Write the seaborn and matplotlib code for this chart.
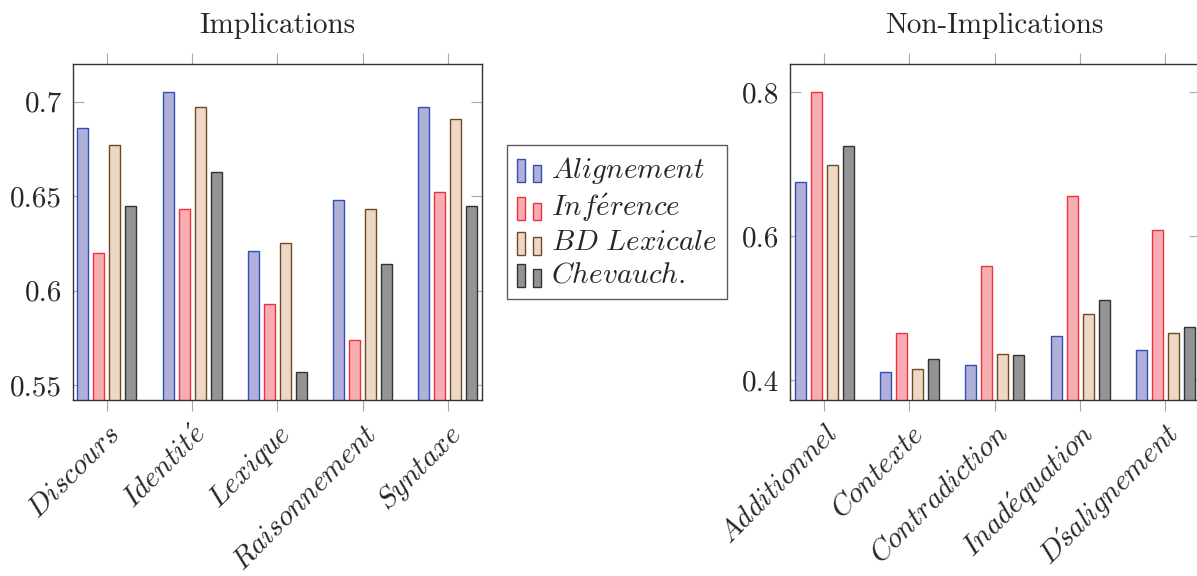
import matplotlib
matplotlib.use("Agg")
import matplotlib.pyplot as plt
from matplotlib.legend_handler import HandlerBase
from matplotlib.patches import Rectangle
from matplotlib.ticker import FuncFormatter
import matplotlib.transforms as mtransforms
import seaborn as sns
import pandas as pd

# --- données ---
series = [r"$\mathit{Alignement}$", r"$\mathit{Inf\acute{e}rence}$",
          r"$\mathit{BD\ Lexicale}$", r"$\mathit{Chevauch.}$"]

impl_cats = [r"$\mathit{Discours}$", r"$\mathit{Identit\acute{e}}$", r"$\mathit{Lexique}$",
             r"$\mathit{Raisonnement}$", r"$\mathit{Syntaxe}$"]
impl_alignement = [0.686, 0.705, 0.621, 0.648, 0.697]
impl_inference = [0.620, 0.643, 0.593, 0.574, 0.652]
impl_bdlex = [0.677, 0.697, 0.625, 0.643, 0.691]
impl_chevauch = [0.645, 0.663, 0.557, 0.614, 0.645]

nonimpl_cats = [r"$\mathit{Additionnel}$", r"$\mathit{Contexte}$", r"$\mathit{Contradiction}$",
                r"$\mathit{Inad\acute{e}quation}$", r"$\mathit{D\'salignement}$"]
nonimpl_alignement = [0.676, 0.411, 0.421, 0.462, 0.442]
nonimpl_inference = [0.800, 0.466, 0.559, 0.656, 0.609]
nonimpl_bdlex = [0.699, 0.416, 0.437, 0.492, 0.465]
nonimpl_chevauch = [0.726, 0.430, 0.435, 0.512, 0.474]

fills = ["#b0b0d8", "#f7aeb2", "#ecd8c4", "#949497"]
edges = ["#2f50b8", "#f0303c", "#6e4a22", "#333333"]


def to_df(cats, cols):
    rows = []
    for s, vals in zip(series, cols):
        for c, v in zip(cats, vals):
            rows.append({"cat": c, "serie": s, "val": v})
    return pd.DataFrame(rows)


df_impl = to_df(impl_cats, [impl_alignement, impl_inference, impl_bdlex, impl_chevauch])
df_non = to_df(nonimpl_cats, [nonimpl_alignement, nonimpl_inference, nonimpl_bdlex, nonimpl_chevauch])

sns.set_style("white")
plt.rcParams["font.family"] = "cmr10"
plt.rcParams["mathtext.fontset"] = "cm"
plt.rcParams["axes.formatter.use_mathtext"] = True

W, H = 1197, 576
fig = plt.figure(figsize=(W / 100, H / 100), dpi=100)
ax1 = fig.add_axes([72.7 / W, 1 - 400.3 / H, (482 - 72.7) / W, (400.3 - 64) / H])
ax2 = fig.add_axes([790 / W, 1 - 400.3 / H, (1199.5 - 790) / W, (400.3 - 64) / H])


class BarPair(HandlerBase):
    # pgfplots dessine deux petites barres dans la légende
    def create_artists(self, legend, orig, xd, yd, width, height, fontsize, trans):
        fc = orig.get_facecolor()
        ec = orig.get_edgecolor()
        bw = 5.5
        a = Rectangle((-xd, -yd - 3), bw, 16.5, facecolor=fc, edgecolor=ec, lw=1, transform=trans)
        b = Rectangle((-xd + 11.5, -yd - 3), bw, 12.5, facecolor=fc, edgecolor=ec, lw=1, transform=trans)
        return [a, b]


def draw(ax, df, cats, ylim, yticks, title):
    sns.barplot(data=df, x="cat", y="val", hue="serie", hue_order=series, order=cats,
                palette=fills, width=0.75, gap=0.31, errorbar=None, ax=ax, linewidth=1,
                saturation=1)
    for cont, ec in zip(ax.containers, edges):
        for bar in cont:
            bar.set_edgecolor(ec)
    ax.set_xlim(-0.4, len(cats) - 0.6)
    ax.set_ylim(*ylim)
    ax.set_yticks(yticks)
    ax.yaxis.set_major_formatter(FuncFormatter(lambda v, p: f"{v:g}"))
    ax.set_xlabel("")
    ax.set_ylabel("")
    ax.set_title(title, fontsize=21, pad=22)
    for sp in ax.spines.values():
        sp.set_color("#333333")
        sp.set_linewidth(1)
    ax.tick_params(axis="y", direction="in", left=True, right=True, length=7.7,
                   width=0.8, color="#a8a8a8", labelsize=21, pad=7.7)
    ax.tick_params(axis="x", direction="out", bottom=True, top=True, length=8,
                   width=0.8, color="#a8a8a8", labelsize=21, pad=13.5)
    offset = mtransforms.ScaledTranslation(10 / 100, 0, fig.dpi_scale_trans)
    for lab in ax.get_xticklabels():
        lab.set_rotation(45)
        lab.set_ha("right")
        lab.set_va("center")
        lab.set_rotation_mode("anchor")
        lab.set_transform(lab.get_transform() + offset)
    handles = [cont[0] for cont in ax.containers]
    if ax.get_legend() is not None:
        ax.get_legend().remove()
    return handles


handles = draw(ax1, df_impl, impl_cats, (0.542, 0.72), [0.55, 0.6, 0.65, 0.7], "Implications")
draw(ax2, df_non, nonimpl_cats, (0.3722, 0.8393), [0.4, 0.6, 0.8], "Non-Implications")

leg = fig.legend(handles, series, loc="upper left", bbox_to_anchor=(507 / W, 1 - 145 / H),
                 borderaxespad=0, fontsize=21, frameon=True, fancybox=False,
                 handler_map={Rectangle: BarPair()}, handlelength=0.85, handletextpad=0.3,
                 labelspacing=0.2, borderpad=0.35)
leg.get_frame().set_edgecolor("#333333")
leg.get_frame().set_linewidth(1)

fig.savefig("out.png", dpi=100)
